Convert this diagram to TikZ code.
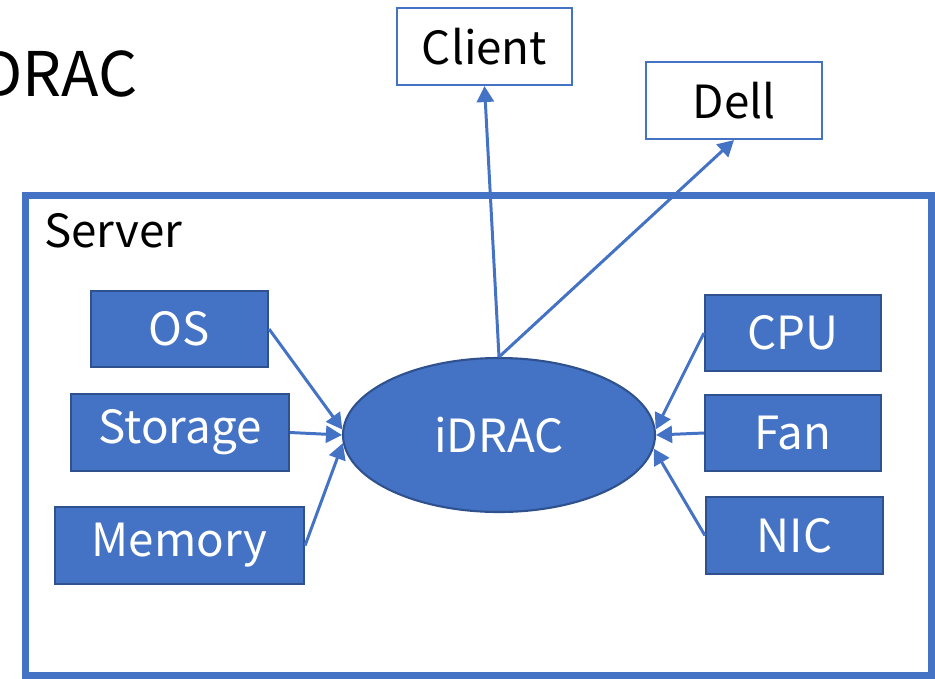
\documentclass[tikz,border=0pt]{standalone}
\usepackage{fontspec}
\setmainfont{Noto Sans CJK JP}
\usetikzlibrary{arrows.meta,shapes.geometric}
\definecolor{ofblue}{HTML}{4472C4}
\definecolor{ofdark}{HTML}{2F528F}
\begin{document}
\begin{tikzpicture}[
  part/.style={rectangle, draw=ofdark, line width=1.2pt, fill=ofblue, text=white,
    font=\fontsize{26}{30}\selectfont, minimum height=1.53cm, inner sep=0pt},
  outer/.style={rectangle, draw=ofblue, line width=1.2pt, fill=white,
    font=\fontsize{26}{30}\selectfont, minimum height=1.54cm, minimum width=3.51cm, inner sep=0pt},
  link/.style={draw=ofblue, line width=1.7pt, -{Triangle[length=0.32cm, width=0.34cm]}}
]
\clip (0, 0) rectangle (18.7, -13.56);
\useasboundingbox (0, 0) rectangle (18.7, -13.56);
\node[anchor=base west, font=\fontsize{35}{40}\selectfont] (title) at (-0.52, -1.93) {DRAC};
\draw[ofblue, line width=0.14cm] (0.5, -3.9) rectangle (18.62, -13.5);
\node[anchor=base west, font=\fontsize{26}{30}\selectfont] (srv) at (0.76, -4.94) {Server};
\node[outer] (client) at (9.69, -0.93) {Client};
\node[outer] (dell) at (14.68, -2.01) {Dell};
\node[ellipse, draw=ofdark, line width=1.2pt, fill=ofblue, text=white, inner sep=0pt,
  minimum width=6.24cm, minimum height=3.08cm, font=\fontsize{26}{30}\selectfont] (ida) at (9.98, -8.7) {iDRAC};
\node[part, minimum width=3.54cm] (os) at (3.59, -6.58) {OS};
\node[part, minimum width=4.36cm] (sto) at (3.6, -8.65) {Storage};
\node[part, minimum width=4.98cm] (mem) at (3.59, -10.91) {Memory};
\node[part, minimum width=3.52cm] (cpu) at (15.86, -6.66) {CPU};
\node[part, minimum width=3.52cm] (fan) at (15.86, -8.66) {Fan};
\node[part, minimum width=3.54cm] (nic) at (15.89, -10.71) {NIC};
\draw[link] (os.east) -- (ida.178);
\draw[link] (sto.east) -- (ida.west);
\draw[link] (mem.east) -- (ida.183.6);
\draw[link] (cpu.west) -- (ida.2);
\draw[link] (fan.west) -- (ida.east);
\draw[link] (nic.west) -- (ida.355.7);
\draw[link] (ida.north) -- (client.south);
\draw[link] (ida.north) -- (dell.south);
\end{tikzpicture}
\end{document}
